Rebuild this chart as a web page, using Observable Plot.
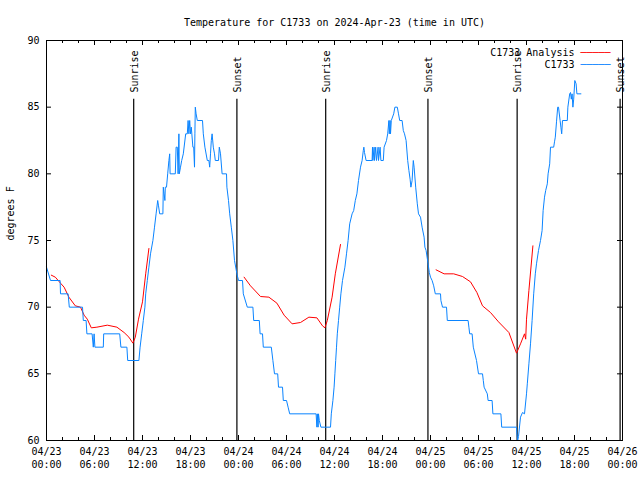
<!DOCTYPE html>
<html>
<head>
<meta charset="utf-8">
<script src="https://cdn.jsdelivr.net/npm/d3@7"></script>
<script src="https://cdn.jsdelivr.net/npm/@observablehq/plot@0.6"></script>
<style>
  body { margin: 0; background: #fff; }
  svg { font-family: "DejaVu Sans Mono", monospace; }
</style>
</head>
<body>
<div id="chart"></div>
<script>
const title = "Temperature for C1733 on 2024-Apr-23 (time in UTC)";
const yLabel = "degrees F";
const seriesNames = ["C1733 Analysis", "C1733"];
const seriesColors = ["#ff0000", "#0a84ff"];
const startUTC = Date.UTC(2024, 3, 23); // hours below are counted from here
const xTickHours = [0, 6, 12, 18, 24, 30, 36, 42, 48, 54, 60, 66, 72];
const yTicks = [60, 65, 70, 75, 80, 85, 90];
const sunriseHours = [10.9, 34.9, 58.83];
const sunsetHours = [23.8, 47.68, 71.7];

// Observed station temperature: [hour, degF]
const observed = [
  [0,73],[0.5,72],[1.7,72],[1.75,71],[2.7,71],[2.85,70],[4.5,70],[4.6,69],[4.95,69],[5.05,68],
  [5.7,68],[5.85,67],[5.95,68],[6.05,67],[7.1,67],[7.15,68],[9.15,68],[9.3,67],[10.05,67],[10.15,66],
  [11.55,66],[11.7,67],[11.9,68],[12.1,69],[12.3,70],[12.4,71],[12.6,72],[12.8,73],[13.0,74],[13.3,75],
  [13.5,76],[13.7,77],[13.9,78],[14.0,77.6],[14.15,77],[14.55,77],[14.6,79],[14.7,78.5],[14.8,78],[14.85,79],
  [15.0,79],[15.15,80],[15.3,81],[15.4,81.5],[15.45,80],[16.1,80],[16.2,82],[16.35,82],[16.45,80],[16.55,83],
  [16.6,80],[16.75,80.5],[16.9,81],[17.1,81.5],[17.4,83],[17.6,83],[17.7,84],[17.8,83],[17.9,84],[18.0,83],
  [18.1,83.5],[18.3,82],[18.4,82],[18.5,80.5],[18.55,83],[18.6,85],[18.7,84.5],[18.85,84],[19.5,84],[19.6,83],
  [19.8,82],[20.1,81],[20.3,81],[20.4,80.5],[20.5,81.5],[20.6,82.5],[20.7,83],[20.85,82],[21.0,81.5],[21.1,81],
  [21.5,81],[21.6,82],[21.75,81.5],[21.95,80],[22.5,80],[22.55,79],[22.75,78],[22.9,77],[23.1,76],[23.3,75],
  [23.5,73.5],[23.8,72.5],[24.0,72],[24.5,72],[24.6,71],[25.1,70],[25.8,70],[25.9,69],[26.6,69],[26.7,68],
  [27.0,68],[27.1,67],[28.1,67],[28.3,66],[28.5,65],[28.9,65],[29.0,64],[29.5,64],[29.6,63],[30.0,63],
  [30.2,62.5],[30.4,62],[33.7,62],[33.8,61],[33.85,62],[33.95,61],[34.0,62],[34.1,61.5],[34.3,61],[35.5,61],
  [35.6,62],[35.8,63],[35.95,64],[36.05,65],[36.15,66],[36.25,67],[36.35,68],[36.5,69],[36.65,70],[36.8,71],
  [37.0,72],[37.3,73],[37.5,74],[37.7,75],[37.9,76.25],[38.2,77],[38.4,77.25],[38.6,78],[38.8,78.5],[39.0,79.5],
  [39.25,80.5],[39.45,81],[39.6,81.75],[39.67,82],[39.75,81.6],[39.95,81],[40.7,81],[40.75,82],[40.8,81],[40.95,82],
  [41.0,81],[41.15,82],[41.25,81],[41.45,82],[41.5,81],[41.7,82],[41.8,81],[42.1,81],[42.2,82],[42.5,82.5],
  [42.65,83],[42.8,84],[42.85,83],[42.95,84],[43.0,83],[43.1,84],[43.4,84.5],[43.55,85],[43.85,85],[44.0,84.5],
  [44.15,84],[44.45,84],[44.6,83.25],[44.75,83],[44.95,82.5],[45.15,81],[45.3,80.25],[45.45,79.6],[45.55,79],[45.7,79.5],
  [45.85,81],[45.95,80.5],[46.15,79],[46.35,77.75],[46.5,77],[46.75,76.75],[46.95,76],[47.2,75.25],[47.3,74.5],[47.45,74.25],
  [47.7,73.25],[47.85,72.6],[48.0,72.25],[48.2,72],[48.4,71.6],[48.6,71],[49.25,71],[49.3,70.5],[49.5,70],[50.0,70],
  [50.1,69],[52.7,69],[52.8,68.5],[52.9,68],[53.2,68],[53.35,67],[53.75,66],[54.0,65],[54.5,65],[54.6,64.5],
  [54.7,64],[55.1,63.5],[55.2,63],[55.7,63],[55.8,62],[56.8,62],[56.9,61],[58.75,61],[58.8,60.5],[58.9,60],
  [59.0,60.3],[59.25,61.75],[59.5,62.1],[59.75,62],[60.0,63.5],[60.1,64.25],[60.3,65.75],[60.5,67.25],[60.7,69],[60.9,71],
  [61.1,72.5],[61.25,73.25],[61.5,74.25],[61.75,75],[61.95,75.75],[62.08,77.25],[62.25,78.25],[62.4,78.75],[62.6,79.25],[62.7,80],
  [62.9,80.75],[63.0,82],[63.4,82],[63.5,82.4],[63.6,82.75],[63.75,83.9],[63.9,85],[64.0,85],[64.2,84],[64.3,83.5],
  [64.4,83],[64.5,84],[65.1,84],[65.17,85],[65.4,86],[65.5,86.1],[65.6,85.6],[65.7,86],[65.8,85],[65.9,85.6],
  [66.04,87],[66.2,86.75],[66.3,86],[66.8,86]
];

// Analysis temperature, three separate segments: [hour, degF]
const analysis1 = [
  [0.6,72.4],[1.1,72.25],[1.75,71.8],[2.2,71.5],[2.8,70.75],[3.6,70.1],[4.25,70.0],[4.7,69.4],[5.1,69.1],[5.6,68.45],
  [6.3,68.5],[7.6,68.65],[8.8,68.5],[9.7,68.1],[10.3,67.75],[10.8,67.3],[11.1,67.75],[11.5,69.1],[12.0,70.4],[12.4,72.5],[12.8,74.4]
];
const analysis2 = [
  [24.7,72.25],[25.5,71.6],[26.75,70.8],[27.8,70.75],[28.8,70.3],[29.7,69.4],[30.7,68.75],[31.75,68.85],[32.8,69.25],[33.8,69.2],
  [34.5,68.6],[34.8,68.45],[35.1,69.0],[35.7,70.75],[36.1,72.5],[36.75,74.7]
];
const analysis3 = [
  [48.7,72.8],[49.7,72.5],[50.9,72.5],[52.0,72.3],[53.0,71.9],[53.8,71.1],[54.5,70.1],[55.5,69.6],[56.5,68.9],[57.8,68.1],
  [58.75,66.55],[59.25,67.25],[59.75,68.0],[59.9,67.6],[60.0,69.1],[60.3,71.25],[60.8,74.6]
];

const toDate = h => new Date(startUTC + h * 3600e3);
const obsData = observed.map(([h, t]) => ({date: toDate(h), temp: t}));
const anaData = [analysis1, analysis2, analysis3].flatMap((seg, i) =>
  seg.map(([h, t]) => ({date: toDate(h), temp: t, seg: i})));
const sunEvents = [
  ...sunriseHours.map(h => ({date: toDate(h), label: "Sunrise"})),
  ...sunsetHours.map(h => ({date: toDate(h), label: "Sunset"}))
];
const majorX = xTickHours.map(toDate);
const minorX = d3.range(0, 73, 2).filter(h => h % 6 !== 0).map(toDate);
const fmt = d3.utcFormat("%m/%d\n%H:%M");

const W = 640, H = 480, mT = 40, mB = 40, mL = 46, mR = 18;
const fw = W - mL - mR, fh = H - mT - mB;
const major = 5, minor = 3;
const sample = "\u2500\u2500\u2500\u2500\u2500";

const legendRow = (i, dy) => [
  Plot.text([seriesNames[i]], {frameAnchor: "top-right", text: d => d, textAnchor: "end", dx: -48, dy, fill: "#000"}),
  Plot.text([sample], {frameAnchor: "top-right", text: d => d, textAnchor: "start", dx: -42, dy, fill: seriesColors[i]})
];

const chart = Plot.plot({
  width: W, height: H,
  marginTop: mT, marginBottom: mB, marginLeft: mL, marginRight: mR,
  style: {fontFamily: "DejaVu Sans Mono, monospace", fontSize: "10px", color: "#000", background: "#fff"},
  x: {type: "utc", domain: [toDate(0), toDate(72)]},
  y: {domain: [60, 90]},
  marks: [
    Plot.axisX({ticks: majorX, tickSize: 0, tickPadding: 5, tickFormat: fmt, label: null, lineHeight: 1.3, fontSize: 10}),
    Plot.axisY({ticks: yTicks, tickSize: 0, tickPadding: 7, label: null, fontSize: 10}),
    // inward ticks (bottom, top, left, right)
    Plot.tickX(majorX, {x: d => d, insetTop: fh - major, stroke: "#000"}),
    Plot.tickX(minorX, {x: d => d, insetTop: fh - minor, stroke: "#000"}),
    Plot.tickX(majorX, {x: d => d, insetBottom: fh - major, stroke: "#000"}),
    Plot.tickX(minorX, {x: d => d, insetBottom: fh - minor, stroke: "#000"}),
    Plot.tickY(yTicks, {y: d => d, insetRight: fw - major, stroke: "#000"}),
    Plot.tickY(yTicks, {y: d => d, insetLeft: fw - major, stroke: "#000"}),
    Plot.ruleX(sunEvents, {x: "date", y1: 85.6, y2: 60, stroke: "#000", strokeWidth: 1.2}),
    Plot.text(sunEvents, {x: "date", y: 86.1, text: "label", rotate: -90, textAnchor: "start", dx: 1, fill: "#000"}),
    Plot.line(anaData, {x: "date", y: "temp", z: "seg", stroke: seriesColors[0], strokeWidth: 1}),
    Plot.line(obsData, {x: "date", y: "temp", stroke: seriesColors[1], strokeWidth: 1}),
    Plot.frame({stroke: "#000"}),
    // title and y label
    Plot.text([title], {frameAnchor: "top", dy: -22, text: d => d, fontSize: 10, fill: "#000"}),
    Plot.text([yLabel], {frameAnchor: "left", dx: -36, rotate: -90, text: d => d, fontSize: 10, fill: "#000"}),
    // legend
    ...legendRow(0, 8.5),
    ...legendRow(1, 20.5)
  ]
});

document.getElementById("chart").appendChild(chart);
</script>
</body>
</html>
